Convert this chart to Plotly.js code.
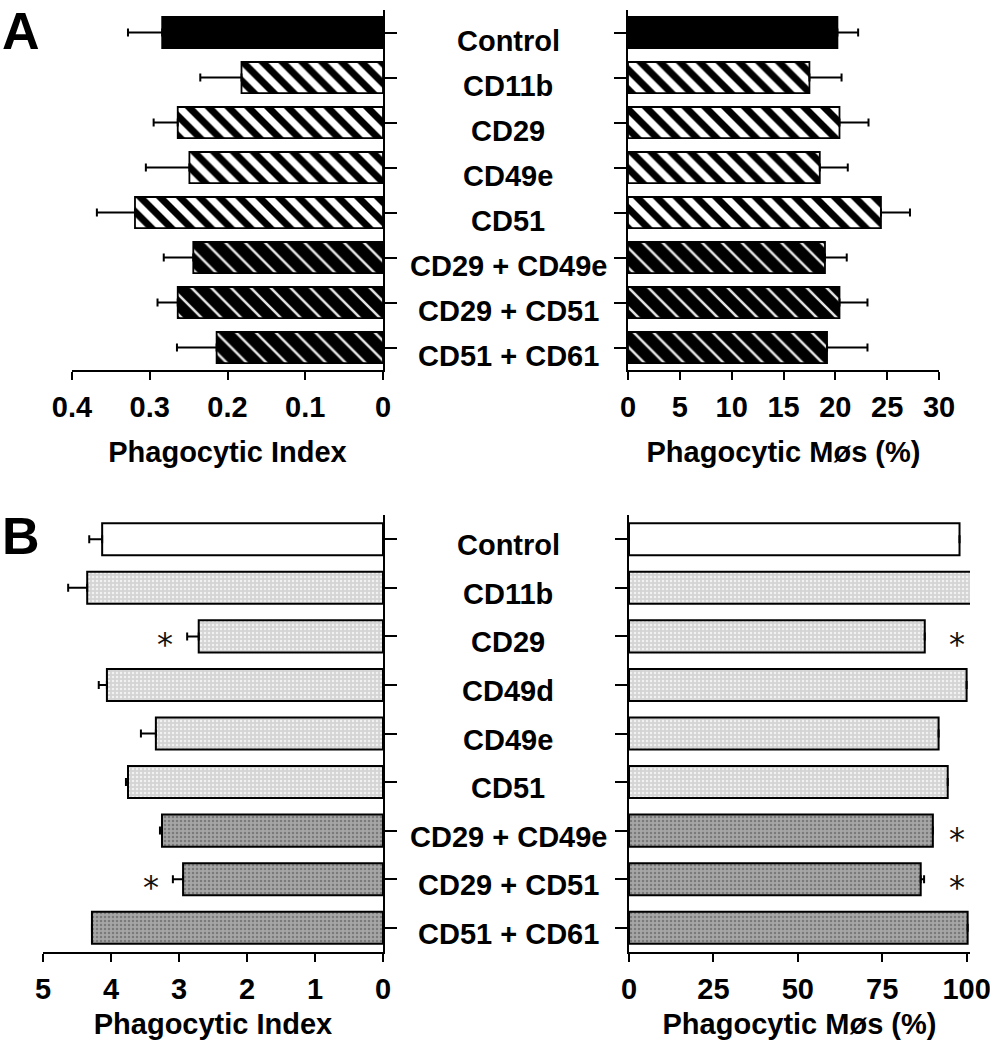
<!DOCTYPE html>
<html>
<head>
<meta charset="utf-8">
<script src="https://cdn.plot.ly/plotly-3.0.1.min.js"></script>
<style>html,body{margin:0;padding:0;background:#fff;}#chart{width:990px;height:1050px;}</style>
</head>
<body>
<div id="chart"></div>
<script>
// ---- Data ----
const catsA = ['Control','CD11b','CD29','CD49e','CD51','CD29 + CD49e','CD29 + CD51','CD51 + CD61'];
const indexA = [0.284,0.182,0.264,0.249,0.319,0.244,0.264,0.214];
const indexAErr = [0.044,0.053,0.031,0.056,0.049,0.038,0.026,0.051];
const pctA = [20.2,17.5,20.4,18.5,24.4,19.0,20.4,19.2];
const pctAErr = [2.0,3.1,2.8,2.7,2.8,2.1,2.7,3.9];

const catsB = ['Control','CD11b','CD29','CD49d','CD49e','CD51','CD29 + CD49e','CD29 + CD51','CD51 + CD61'];
const indexB = [4.13,4.35,2.71,4.06,3.34,3.75,3.25,2.94,4.28];
const indexBErr = [0.19,0.28,0.17,0.12,0.22,0.03,0.03,0.15,0];
const pctB = [97.9,101.8,87.6,100,91.7,94.4,90.0,86.4,100.3];
const pctBErr = [0,0,0,0,0,0,0,1.0,0];
const sigIndexB = [false,false,true,false,false,false,false,true,false];
const sigPctB = [false,false,true,false,false,false,true,true,false];

const ticksA1 = [0,0.1,0.2,0.3,0.4];
const ticksA2 = [0,5,10,15,20,25,30];
const ticksB1 = [0,1,2,3,4,5];
const ticksB2 = [0,25,50,75,100];

// ---- Styles ----
const FONT = 'Liberation Sans, Arial, Helvetica, sans-serif';
const kind = c => c === 'Control' ? 'control' : (c.includes('+') ? 'combo' : 'single');
const KINDS = ['control','single','combo'];

const styleA = {
  control: {color:'#000', line:{color:'#000', width:1.8}},
  single: {color:'#fff', line:{color:'#000', width:1.8},
           pattern:{shape:'\\', bgcolor:'#fff', fgcolor:'#000', fgopacity:1, size:14, solidity:0.5, fillmode:'replace'}},
  combo: {color:'#000', line:{color:'#000', width:1.8},
          pattern:{shape:'\\', bgcolor:'#000', fgcolor:'#fff', fgopacity:0.9, size:14, solidity:0.18, fillmode:'replace'}}
};
const styleB = {
  control: {color:'#fff', line:{color:'#000', width:2}},
  single: {color:'#d6d6d6', line:{color:'#000', width:2},
           pattern:{shape:'.', bgcolor:'#d4d4d4', fgcolor:'#f2f2f2', fgopacity:1, size:4, solidity:0.3, fillmode:'replace'}},
  combo: {color:'#a4a4a4', line:{color:'#000', width:2},
          pattern:{shape:'.', bgcolor:'#a6a6a6', fgcolor:'#7a7a7a', fgopacity:1, size:4, solidity:0.3, fillmode:'replace'}}
};

function panelTraces(cats, vals, errs, style, xa, ya, width, clip){
  return KINDS.map(k => {
    const idx = cats.map((c,i) => i).filter(i => kind(cats[i]) === k);
    return {type:'bar', orientation:'h', xaxis:xa, yaxis:ya, width:width, cliponaxis:clip,
      x: idx.map(i => vals[i]), y: idx.map(i => cats[i]),
      marker: style[k],
      error_x: {type:'data', symmetric:false, array: idx.map(i => errs[i]),
                arrayminus: idx.map(() => 0), color:'#000', thickness:2, width:4}};
  });
}

const traces = [].concat(
  panelTraces(catsA, indexA, indexAErr, styleA, 'x', 'y', 0.69, true),
  panelTraces(catsA, pctA, pctAErr, styleA, 'x2', 'y2', 0.69, true),
  panelTraces(catsB, indexB, indexBErr, styleB, 'x3', 'y3', 0.66, true),
  panelTraces(catsB, pctB, pctBErr, styleB, 'x4', 'y4', 0.66, false)
);

const W = 990, H = 1050;
const px = v => v / W;
const py = v => 1 - v / H;

const tickFont = {family:FONT, size:29, color:'#000', weight:'bold'};
const titleFont = {family:FONT, size:29, color:'#000', weight:'bold'};
function xax(dom, range, vals, anchor, title, standoff){
  return {domain:dom, range:range, anchor:anchor, tickvals:vals, ticktext:vals.map(String),
    showline:true, linecolor:'#000', linewidth:2, ticks:'outside', ticklen:8, tickwidth:2, tickcolor:'#000',
    showgrid:false, zeroline:false, tickfont:tickFont, ticklabelstandoff:2, ticklabeloverflow:'allow',
    title:{text:title, font:titleFont, standoff:standoff}, fixedrange:true};
}
function yax(dom, cats, anchor, side){
  return {domain:dom, type:'category', categoryorder:'array', categoryarray:cats,
    range:[cats.length-0.5,-0.5], anchor:anchor, side:side,
    showline:true, linecolor:'#000', linewidth:2, ticks:'outside', ticklen:12, tickwidth:2, tickcolor:'#000',
    showticklabels:false, showgrid:false, zeroline:false, fixedrange:true};
}

const domA = [py(370), py(10)];
const domB = [py(952), py(515)];

const labelFont = {family:FONT, size:29, color:'#000', weight:'bold'};
const annotations = [];
catsA.forEach(c => annotations.push({xref:'paper', yref:'y', x:px(508), y:c, text:c, showarrow:false,
  xanchor:'center', yanchor:'middle', yshift:-9, font:labelFont}));
catsB.forEach(c => annotations.push({xref:'paper', yref:'y3', x:px(508), y:c, text:c, showarrow:false,
  xanchor:'center', yanchor:'middle', yshift:-6, font:labelFont}));
catsB.forEach((c,i) => {
  if (sigIndexB[i]) annotations.push({xref:'x3', yref:'y3', x:indexB[i]+indexBErr[i], y:c, text:'*',
    showarrow:false, xanchor:'center', yanchor:'middle', xshift:-22, yshift:-8,
    font:{family:'DejaVu Sans, sans-serif', size:32, color:'#111'}});
  if (sigPctB[i]) annotations.push({xref:'paper', yref:'y4', x:px(957), y:c, text:'*',
    showarrow:false, xanchor:'center', yanchor:'middle', yshift:-8,
    font:{family:'DejaVu Sans, sans-serif', size:32, color:'#111'}});
});
const letterFont = {family:FONT, size:52, color:'#000', weight:'bold'};
annotations.push({xref:'paper', yref:'paper', x:0, y:py(0), text:'A', showarrow:false,
  xanchor:'left', yanchor:'top', font:letterFont});
annotations.push({xref:'paper', yref:'paper', x:0, y:py(505), text:'B', showarrow:false,
  xanchor:'left', yanchor:'top', font:letterFont});

const layout = {
  width:W, height:H, margin:{l:0, r:0, t:0, b:0}, paper_bgcolor:'#fff', plot_bgcolor:'rgba(0,0,0,0)',
  showlegend:false, barmode:'overlay',
  xaxis: xax([px(72), px(383)], [0.4, 0], ticksA1, 'y', 'Phagocytic Index', 20),
  yaxis: yax(domA, catsA, 'x', 'right'),
  xaxis2: xax([px(628), px(939)], [0, 30], ticksA2, 'y2', 'Phagocytic Møs (%)', 20),
  yaxis2: yax(domA, catsA, 'x2', 'left'),
  xaxis3: xax([px(43), px(383)], [5, 0], ticksB1, 'y3', 'Phagocytic Index', 10),
  yaxis3: yax(domB, catsB, 'x3', 'right'),
  xaxis4: xax([px(629), px(970)], [0, 101], ticksB2, 'y4', 'Phagocytic Møs (%)', 10),
  yaxis4: yax(domB, catsB, 'x4', 'left'),
  annotations: annotations
};

Plotly.newPlot('chart', traces, layout, {displayModeBar:false, staticPlot:true});
</script>
</body>
</html>
